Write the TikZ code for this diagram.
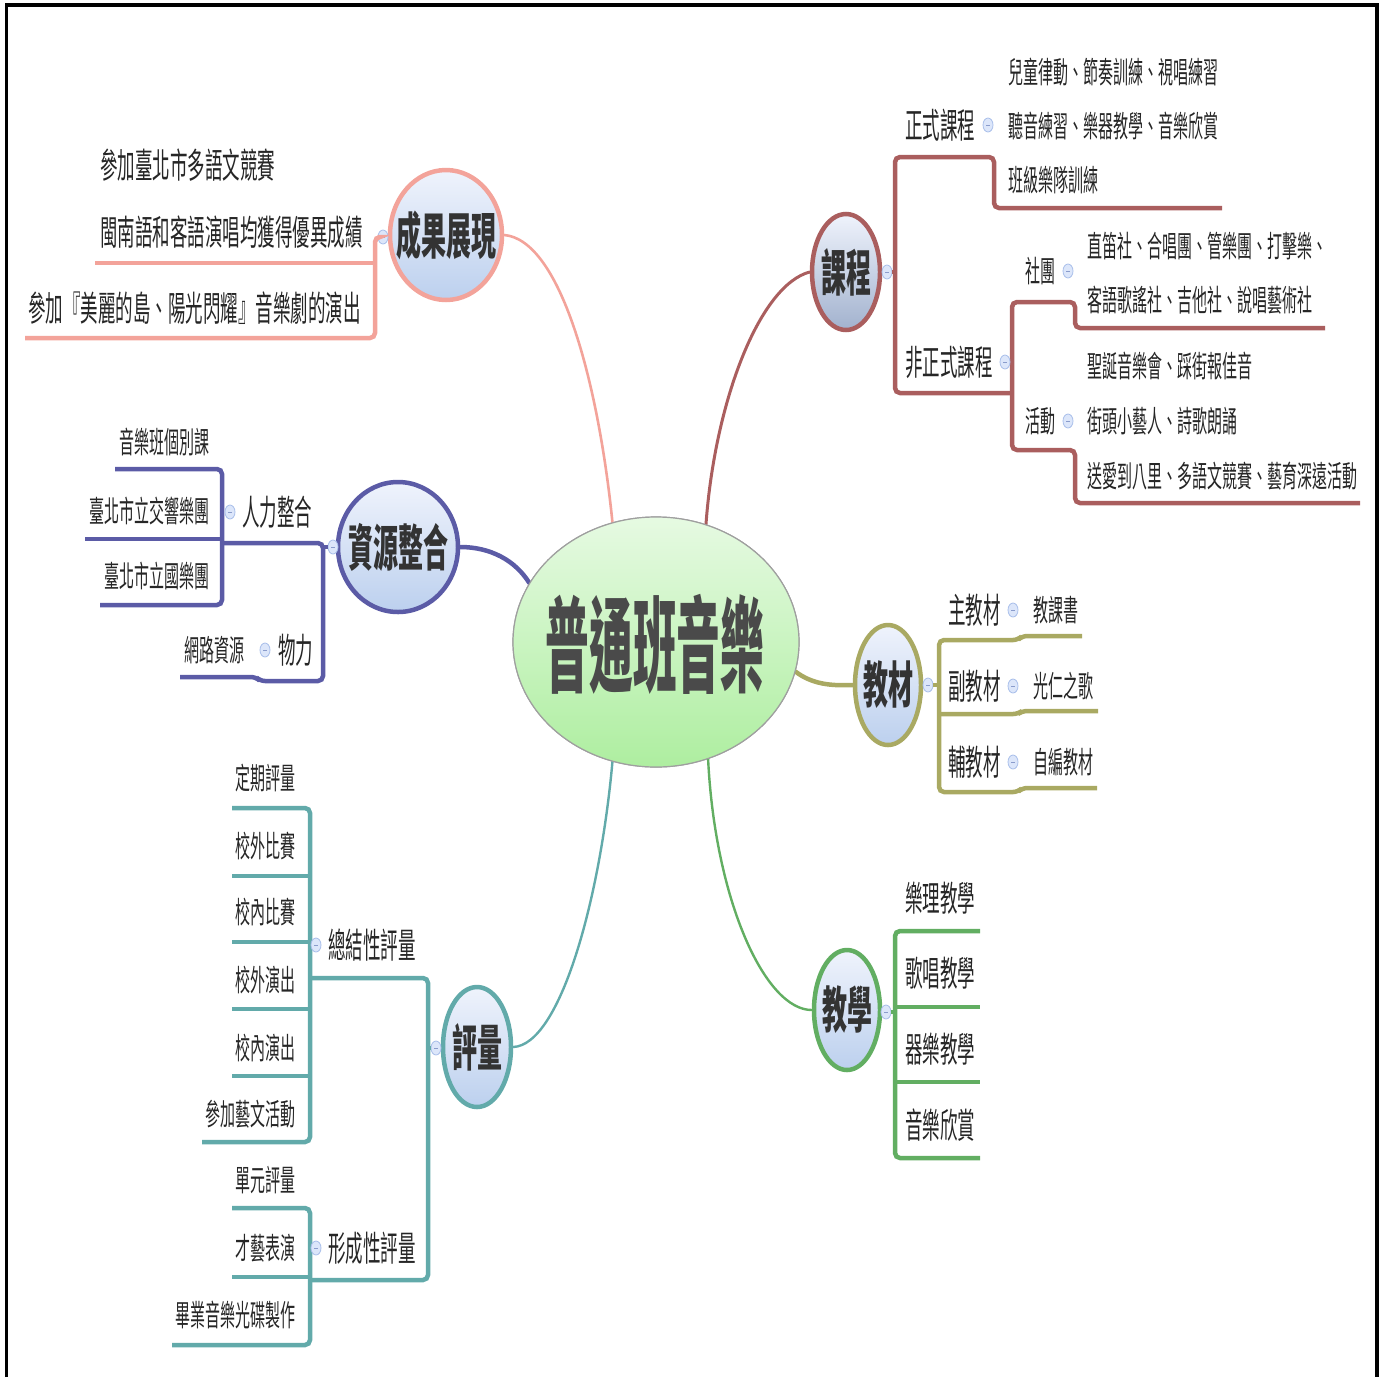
\documentclass[tikz,border=0pt]{standalone}
\usepackage{fontspec}
\usetikzlibrary{shapes.geometric}
\newfontfamily\cjk[FakeStretch=0.5]{Noto Sans CJK TC}
\newfontfamily\cjkc[FakeStretch=0.42]{Noto Sans CJK TC}
\definecolor{cSal}{HTML}{F3A39A}
\definecolor{cKc}{HTML}{AA5E5E}
\definecolor{cZy}{HTML}{5B5BA6}
\definecolor{cJc}{HTML}{A9A962}
\definecolor{cJx}{HTML}{62AE62}
\definecolor{cPl}{HTML}{62AAAA}
\definecolor{txt}{HTML}{262626}
\definecolor{ttxt}{HTML}{333333}
\definecolor{ctxt}{HTML}{4A4A4A}
\definecolor{topT}{HTML}{EFF3FC}
\definecolor{topB}{HTML}{BCD0EE}
\definecolor{topBk}{HTML}{A2B2CE}
\definecolor{cenT}{HTML}{E6FAE2}
\definecolor{cenB}{HTML}{AEEEA0}
\definecolor{dotF}{HTML}{DCE6FA}
\definecolor{dotB}{HTML}{A8BEEA}
\definecolor{dotM}{HTML}{8A9CCC}
\begin{document}
\begin{tikzpicture}[x=1pt,y=-1pt,
  leaf/.style={inner sep=0pt, font=\cjk\fontsize{30}{34}\selectfont, text=txt},
  sub/.style={inner sep=0pt, font=\cjk\fontsize{35}{40}\selectfont, text=txt},
  topic/.style={ellipse, draw=#1, line width=4.5pt, top color=topT, bottom color=topB, inner sep=0pt},
  ttext/.style={inner sep=0pt, font=\cjk\bfseries\fontsize{50}{56}\selectfont, text=ttxt},
  dotn/.style={ellipse, draw=dotB, fill=dotF, line width=0.8pt, minimum width=10pt, minimum height=14pt, inner sep=0pt,
    path picture={\draw[dotM, line width=0.7pt] ([xshift=-1.8pt]path picture bounding box.center) -- ([xshift=1.8pt]path picture bounding box.center);}},
  br/.style={draw=#1, line width=4.5pt, rounded corners=5pt},
  mainc/.style={draw=#1, line cap=round}
  ]
\useasboundingbox (0,0) rectangle (1386,1377);
% frame
\draw[black, line width=3.5pt] (6.5,1377) -- (6.5,5) -- (1377,5) -- (1377,1377);

% ---------- center and topics ----------
\node[ellipse, draw=gray!75, line width=1.2pt, top color=cenT, bottom color=cenB, minimum width=286pt, minimum height=250pt] (C) at (656,642) {};
\node[topic=cSal, minimum width=112pt, minimum height=130pt] (cg) at (446,235) {};
\node[topic=cKc, minimum width=68pt, minimum height=116pt, bottom color=topBk] (kc) at (846,272) {};
\node[topic=cZy, minimum width=120pt, minimum height=130pt] (zy) at (398,547) {};
\node[topic=cJc, minimum width=66pt, minimum height=120pt] (jc) at (888,685) {};
\node[topic=cJx, minimum width=66pt, minimum height=120pt] (jx) at (847,1010) {};
\node[topic=cPl, minimum width=68pt, minimum height=120pt] (pl) at (477,1047) {};

% main connectors
\draw[mainc=cSal, line width=2.6pt] (C.110) .. controls (598,380) and (560,240) .. (cg.east);
\draw[mainc=cKc, line width=3pt] (C.67) .. controls (715,400) and (760,285) .. (kc.west);
\draw[mainc=cZy, line width=4.5pt] (zy.east) .. controls (490,547) and (515,560) .. (C.155);
\draw[mainc=cJc, line width=4.5pt] (C.-12) .. controls (812,684) and (830,686) .. (jc.west);
\draw[mainc=cJx, line width=2.4pt] (C.-66) .. controls (715,900) and (765,1010) .. (jx.west);
\draw[mainc=cPl, line width=2.4pt] (C.-110) .. controls (600,900) and (560,1045) .. (pl.east);

% redraw ellipses on top of connectors
\node[ellipse, draw=gray!75, line width=1.2pt, top color=cenT, bottom color=cenB, minimum width=286pt, minimum height=250pt] (C2) at (C) {};
\node[font=\cjkc\bfseries\fontsize{104}{110}\selectfont, text=ctxt, inner sep=0pt] (Ct) at (655,644) {普通班音樂};
\node[ttext] (cgt) at (cg) {成果展現};
\node[ttext] (kct) at (kc) {課程};
\node[ttext] (zyt) at (zy) {資源整合};
\node[ttext] (jct) at (jc) {教材};
\node[ttext] (jxt) at (jx) {教學};
\node[ttext] (plt) at (pl) {評量};

% ---------- 成果展現 ----------
\node[dotn] (cgd) at (383,237) {};
\draw[br=cSal] (cgd.west) -| (375,338) -- (25,338);
\draw[br=cSal] (375,263) -- (95,263);
\node[sub, anchor=west] (cg1) at (100,165) {參加臺北市多語文競賽};
\node[sub, anchor=west] (cg2) at (100,232) {閩南語和客語演唱均獲得優異成績};
\node[sub, anchor=west] (cg3) at (28,308) {參加『美麗的島、陽光閃耀』音樂劇的演出};

% ---------- 課程 ----------
\node[dotn] (kcd) at (887,272) {};
\draw[br=cKc] (kcd.east) -- (895,272);
\draw[br=cKc] (1222,208) -- (994,208) -- (994,157) -- (895,157) -- (895,393) -- (1012,393);
\draw[br=cKc] (1325,328) -- (1075,328) -- (1075,302) -- (1012,302) -- (1012,450) -- (1075,450) -- (1075,503) -- (1360,503);
\node[sub, anchor=west] (k1) at (905,125) {正式課程};
\node[dotn] (k1d) at (988,125) {};
\node[leaf, anchor=west] (k1a) at (1008,72) {兒童律動、節奏訓練、視唱練習};
\node[leaf, anchor=west] (k1b) at (1008,126) {聽音練習、樂器教學、音樂欣賞};
\node[leaf, anchor=west] (k1c) at (1008,180) {班級樂隊訓練};
\node[sub, anchor=west] (k2) at (905,362) {非正式課程};
\node[dotn] (k2d) at (1005,362) {};
\node[leaf, anchor=west] (k21) at (1025,271) {社團};
\node[dotn] (k21d) at (1068,271) {};
\node[leaf, anchor=west] (k21a) at (1087,246) {直笛社、合唱團、管樂團、打擊樂、};
\node[leaf, anchor=west] (k21b) at (1087,300) {客語歌謠社、吉他社、說唱藝術社};
\node[leaf, anchor=west] (k22) at (1025,421) {活動};
\node[dotn] (k22d) at (1068,421) {};
\node[leaf, anchor=west] (k22a) at (1087,366) {聖誕音樂會、踩街報佳音};
\node[leaf, anchor=west] (k22b) at (1087,421) {街頭小藝人、詩歌朗誦};
\node[leaf, anchor=west] (k22c) at (1087,476) {送愛到八里、多語文競賽、藝育深遠活動};

% ---------- 資源整合 ----------
\node[dotn] (zyd) at (333,547) {};
\draw[br=cZy] (zyd.west) -- (323,547);
\draw[br=cZy] (222,543) -- (323,543) -- (323,681) -- (260,681) -- (256,677) -- (180,677);
\draw[br=cZy] (115,469) -- (222,469) -- (222,605) -- (100,605);
\draw[br=cZy] (85,539) -- (222,539);
\node[sub, anchor=west] (z1) at (242,512) {人力整合};
\node[dotn] (z1d) at (230,512) {};
\node[leaf, anchor=east] (z1a) at (210,442) {音樂班個別課};
\node[leaf, anchor=east] (z1b) at (210,511) {臺北市立交響樂團};
\node[leaf, anchor=east] (z1c) at (210,576) {臺北市立國樂團};
\node[sub, anchor=west] (z2) at (278,650) {物力};
\node[dotn] (z2d) at (265,650) {};
\node[leaf, anchor=east] (z2a) at (245,650) {網路資源};

% ---------- 教材 ----------
\node[dotn] (jcd) at (928,685) {};
\draw[br=cJc] (jcd.east) -- (939,685);
\draw[br=cJc] (1082,636) -- (1022,636) -- (1018,640) -- (939,640) -- (939,792) -- (1018,792) -- (1022,788) -- (1097,788);
\draw[br=cJc] (939,714) -- (1018,714) -- (1022,711) -- (1098,711);
\node[sub, anchor=west] (j1) at (948,610) {主教材};
\node[dotn] (j1d) at (1013,610) {};
\node[leaf, anchor=west] (j1a) at (1033,610) {教課書};
\node[sub, anchor=west] (j2) at (948,686) {副教材};
\node[dotn] (j2d) at (1013,686) {};
\node[leaf, anchor=west] (j2a) at (1033,686) {光仁之歌};
\node[sub, anchor=west] (j3) at (948,762) {輔教材};
\node[dotn] (j3d) at (1013,762) {};
\node[leaf, anchor=west] (j3a) at (1033,762) {自編教材};

% ---------- 教學 ----------
\node[dotn] (jxd) at (886,1012) {};
\draw[br=cJx] (jxd.east) -- (895,1012);
\draw[br=cJx] (980,931) -- (895,931) -- (895,1158) -- (980,1158);
\draw[br=cJx] (895,1007) -- (980,1007);
\draw[br=cJx] (895,1082) -- (980,1082);
\node[sub, anchor=west] (x1) at (905,898) {樂理教學};
\node[sub, anchor=west] (x2) at (905,973) {歌唱教學};
\node[sub, anchor=west] (x3) at (905,1049) {器樂教學};
\node[sub, anchor=west] (x4) at (905,1125) {音樂欣賞};

% ---------- 評量 ----------
\node[dotn] (pld) at (436,1048) {};
\draw[br=cPl] (pld.west) -- (428,1048);
\draw[br=cPl] (310,978) -- (428,978) -- (428,1280) -- (310,1280);
\draw[br=cPl] (232,808) -- (310,808) -- (310,1142) -- (202,1142);
\foreach \yy in {876,942,1009,1076} \draw[br=cPl] (232,\yy) -- (310,\yy);
\draw[br=cPl] (232,1208) -- (310,1208) -- (310,1345) -- (172,1345);
\draw[br=cPl] (232,1277) -- (310,1277);
\node[sub, anchor=west] (p1) at (328,945) {總結性評量};
\node[dotn] (p1d) at (316,945) {};
\node[sub, anchor=west] (p2) at (328,1248) {形成性評量};
\node[dotn] (p2d) at (316,1248) {};
\node[leaf, anchor=east] (p1a) at (296,778) {定期評量};
\node[leaf, anchor=east] (p1b) at (296,846) {校外比賽};
\node[leaf, anchor=east] (p1c) at (296,912) {校內比賽};
\node[leaf, anchor=east] (p1e) at (296,980) {校外演出};
\node[leaf, anchor=east] (p1f) at (296,1048) {校內演出};
\node[leaf, anchor=east] (p1g) at (296,1114) {參加藝文活動};
\node[leaf, anchor=east] (p2a) at (296,1180) {單元評量};
\node[leaf, anchor=east] (p2b) at (296,1248) {才藝表演};
\node[leaf, anchor=east] (p2c) at (296,1315) {畢業音樂光碟製作};
\end{tikzpicture}
\end{document}
